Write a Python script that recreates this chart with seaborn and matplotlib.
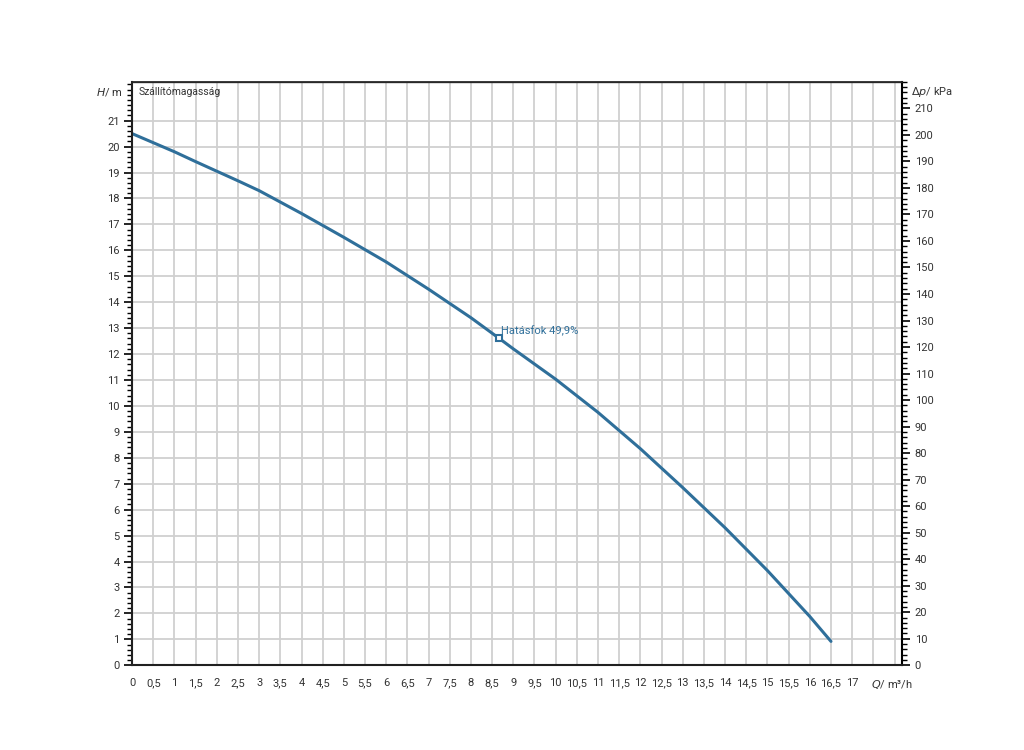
import numpy as np
import pandas as pd
import matplotlib.pyplot as plt
import seaborn as sns
from matplotlib.ticker import MultipleLocator, FuncFormatter

# pump curve
flow = [0, 0.5, 1, 1.5, 2, 2.5, 3, 4, 5, 6, 7, 8, 8.67, 9, 10, 11, 12, 13, 14, 15, 16, 16.5]
head = [20.5, 20.15, 19.8, 19.42, 19.05, 18.68, 18.3, 17.42, 16.5, 15.55, 14.5, 13.4, 12.6,
        12.2, 11.03, 9.75, 8.35, 6.85, 5.3, 3.65, 1.88, 0.92]
eff_flow = [8.67]
eff_head = [12.6]
eff_label = "Hatásfok 49,9%"
kpa_per_m = 9.78

line_color = "#2f6f9a"

sns.set_theme(style="white")
plt.rcParams['font.family'] = ['Roboto', 'DejaVu Sans']

df = pd.DataFrame({'Q': flow, 'H': head})

fig = plt.figure(figsize=(10.24, 7.5), dpi=100)
ax = fig.add_axes([0.129, 0.113, 0.752, 0.778])

ax.xaxis.set_major_locator(MultipleLocator(0.5))
ax.yaxis.set_major_locator(MultipleLocator(1))
ax.grid(True, color='#d0d0d0', linewidth=1.3)
ax.set_axisbelow(True)

sns.lineplot(data=df, x='Q', y='H', ax=ax, color=line_color, linewidth=2.2)
ax.plot(eff_flow, eff_head, marker='s', markersize=5, markerfacecolor='white',
        markeredgecolor=line_color, markeredgewidth=1.5, linestyle='none', zorder=5)
ax.annotate(eff_label, (eff_flow[0], eff_head[0]), xytext=(1, 3), textcoords='offset points',
            fontsize=8, color=line_color)

xmax, ymax = 18.18, 22.5
ax.set_xlim(0, xmax)
ax.set_ylim(0, ymax)
ax.set_xlabel('')
ax.set_ylabel('')

ax.xaxis.set_minor_locator(MultipleLocator(0.1))
ax.yaxis.set_minor_locator(MultipleLocator(0.2))

def fmt(v, pos):
    if v > 17.01:
        return ''
    s = f"{v:g}"
    return s.replace('.', ',')

ax.xaxis.set_major_formatter(FuncFormatter(fmt))
ax.tick_params(axis='both', which='major', direction='out', length=6, width=1.2,
               labelsize=8, colors='black', labelcolor='#333333', pad=3)
ax.tick_params(axis='both', which='minor', direction='out', length=3.5, width=1, colors='black')
ax.set_yticks(np.arange(0, 22, 1))

for s in ['left', 'bottom', 'right', 'top']:
    ax.spines[s].set_visible(True)
    ax.spines[s].set_color('black')
ax.spines['left'].set_linewidth(1.5)
ax.spines['bottom'].set_linewidth(1.5)
ax.spines['top'].set_linewidth(1.0)
ax.spines['top'].set_color('#444444')

ax2 = ax.twinx()
ax2.set_ylim(0, ymax * kpa_per_m)
ax2.set_yticks(np.arange(0, 211, 10))
ax2.yaxis.set_minor_locator(MultipleLocator(2))
ax2.tick_params(axis='y', which='major', direction='out', length=6, width=1.2,
                labelsize=8, colors='black', labelcolor='#333333', pad=3)
ax2.tick_params(axis='y', which='minor', direction='out', length=3.5, width=1, colors='black')
ax2.spines['right'].set_linewidth(1.5)
ax2.spines['right'].set_color('black')
ax2.grid(False)

# axis captions
ax.text(-0.012, 22.1, r'$\mathit{H}$/ m', transform=ax.get_yaxis_transform(), ha='right',
        va='center', fontsize=8, color='#333333')
ax.text(1.012, 22.1, r'$\mathit{\Delta p}$/ kPa', transform=ax.get_yaxis_transform(), ha='left',
        va='center', fontsize=8, color='#333333')
ax.text(17.45, -0.022, r'$\mathit{Q}$/ m³/h', transform=ax.get_xaxis_transform(), ha='left',
        va='top', fontsize=8, color='#333333')
ax.text(0.15, 22.1, 'Szállítómagasság', fontsize=7.5, color='#333333', va='center')

fig.savefig('out.png', dpi=100)
